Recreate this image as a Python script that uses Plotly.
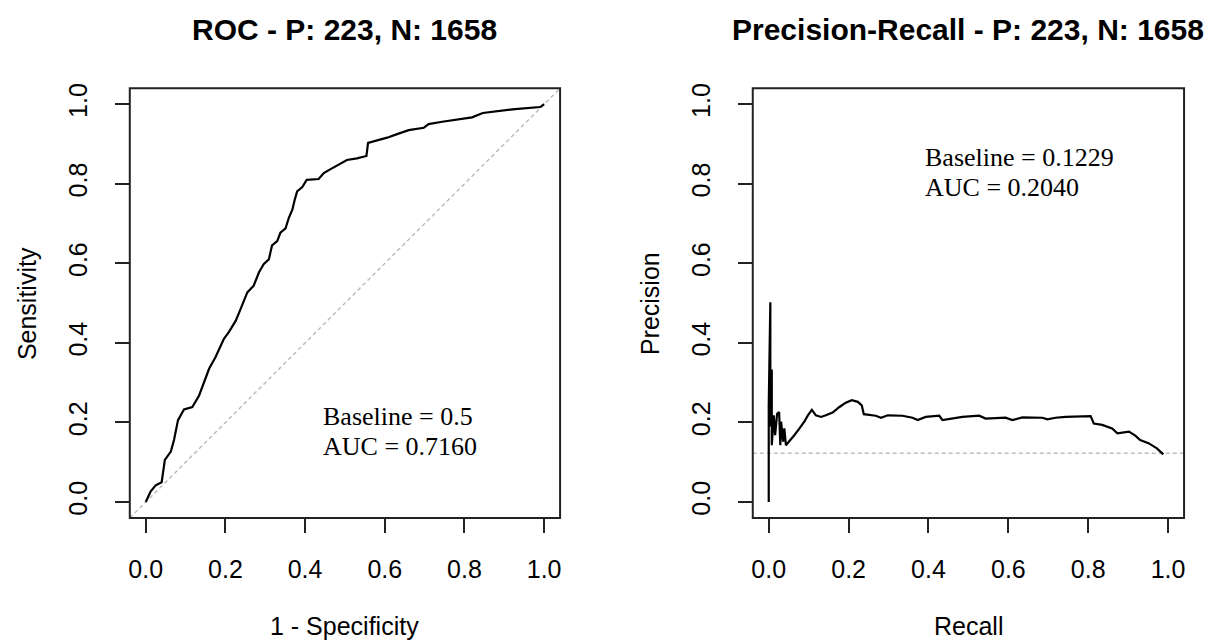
import plotly.graph_objects as go

# ---------------- data ----------------
roc_fpr = [0.0, 0.0125, 0.025, 0.040, 0.048, 0.063, 0.071, 0.081, 0.096, 0.117, 0.134, 0.147,
           0.159, 0.175, 0.196, 0.209, 0.226, 0.238, 0.246, 0.255, 0.271, 0.284, 0.296, 0.309,
           0.317, 0.330, 0.338, 0.351, 0.359, 0.368, 0.374, 0.380, 0.393, 0.404, 0.434, 0.447,
           0.464, 0.485, 0.505, 0.530, 0.554, 0.558, 0.585, 0.606, 0.631, 0.660, 0.698, 0.710,
           0.744, 0.769, 0.819, 0.846, 0.927, 0.990, 1.0]
roc_tpr = [0.0, 0.027, 0.042, 0.050, 0.106, 0.127, 0.156, 0.206, 0.233, 0.239, 0.268, 0.302,
           0.335, 0.364, 0.410, 0.428, 0.456, 0.485, 0.506, 0.527, 0.544, 0.577, 0.598, 0.610,
           0.645, 0.656, 0.677, 0.688, 0.714, 0.735, 0.760, 0.781, 0.792, 0.810, 0.812, 0.827,
           0.837, 0.848, 0.860, 0.864, 0.870, 0.903, 0.910, 0.916, 0.925, 0.935, 0.941, 0.950,
           0.956, 0.960, 0.967, 0.978, 0.988, 0.993, 1.0]

pr_recall = [0.0, 0.0, 0.004, 0.004, 0.0076, 0.0076, 0.0126, 0.016, 0.021, 0.026, 0.029, 0.031,
             0.036, 0.039, 0.043, 0.052, 0.064, 0.077, 0.089, 0.098, 0.108, 0.118, 0.131, 0.143,
             0.160, 0.177, 0.193, 0.208, 0.223, 0.233, 0.238, 0.268, 0.281, 0.298, 0.335, 0.360,
             0.373, 0.393, 0.427, 0.435, 0.460, 0.485, 0.527, 0.543, 0.593, 0.610, 0.635, 0.685,
             0.698, 0.718, 0.743, 0.806, 0.814, 0.835, 0.860, 0.873, 0.902, 0.918, 0.930, 0.951,
             0.972, 0.988]
pr_precision = [0.0, 0.243, 0.502, 0.190, 0.333, 0.143, 0.218, 0.168, 0.222, 0.226, 0.143, 0.202,
                0.152, 0.185, 0.143, 0.153, 0.168, 0.185, 0.202, 0.218, 0.232, 0.218, 0.214, 0.218,
                0.225, 0.239, 0.250, 0.256, 0.252, 0.243, 0.221, 0.217, 0.212, 0.218, 0.217, 0.212,
                0.206, 0.214, 0.217, 0.206, 0.210, 0.214, 0.217, 0.210, 0.212, 0.206, 0.213, 0.212,
                0.208, 0.212, 0.214, 0.216, 0.1975, 0.194, 0.185, 0.173, 0.177, 0.167, 0.156, 0.148,
                0.135, 0.120]

tick_vals = [0.0, 0.2, 0.4, 0.6, 0.8, 1.0]
tick_text = ["0.0", "0.2", "0.4", "0.6", "0.8", "1.0"]

n_pos, n_neg = 223, 1658
roc_baseline, roc_auc = 0.5, 0.7160
pr_baseline, pr_auc = 0.1229, 0.2040

# ---------------- figure ----------------
W, H = 1221, 642
SANS = "Liberation Sans, Arial, sans-serif"
SERIF = "Liberation Serif, Times New Roman, serif"

def px_x(p):
    return p / W

def px_y(p):
    return 1 - p / H

fig = go.Figure()
fig.add_trace(go.Scatter(x=roc_fpr, y=roc_tpr, mode="lines",
                         line=dict(color="black", width=2.2),
                         xaxis="x", yaxis="y", showlegend=False, hoverinfo="skip"))
fig.add_trace(go.Scatter(x=pr_recall, y=pr_precision, mode="lines",
                         line=dict(color="black", width=2.2),
                         xaxis="x2", yaxis="y2", showlegend=False, hoverinfo="skip"))

axis_common = dict(range=[-0.04, 1.04], tickvals=tick_vals, ticktext=tick_text,
                   ticks="outside", ticklen=14, tickwidth=2, tickcolor="#222",
                   showgrid=False, zeroline=False, showline=False,
                   tickfont=dict(family=SANS, size=25, color="black"))

ydom = [px_y(517), px_y(84)]
fig.update_layout(
    width=W, height=H, autosize=False,
    margin=dict(l=0, r=0, t=0, b=0),
    paper_bgcolor="white", plot_bgcolor="white",
    xaxis=dict(domain=[px_x(129), px_x(560)], anchor="y", ticklabelstandoff=15, **axis_common),
    yaxis=dict(domain=ydom, anchor="x", tickangle=-90, ticklabelstandoff=18, **axis_common),
    xaxis2=dict(domain=[px_x(753), px_x(1185)], anchor="y2", ticklabelstandoff=15, **axis_common),
    yaxis2=dict(domain=ydom, anchor="x2", tickangle=-90, ticklabelstandoff=18, **axis_common),
)

dash = dict(color="#bebebe", width=1.5, dash="4px,3px")
shapes = [
    # baselines
    dict(type="line", xref="x domain", yref="y domain", x0=0, y0=0, x1=1, y1=1, line=dash, layer="below"),
    dict(type="line", xref="x2 domain", yref="y2", x0=0, x1=1, y0=pr_baseline, y1=pr_baseline,
         line=dash, layer="below"),
    # boxes
    dict(type="rect", xref="x domain", yref="y domain", x0=0, y0=0, x1=1, y1=1,
         line=dict(color="#222", width=2)),
    dict(type="rect", xref="x2 domain", yref="y2 domain", x0=0, y0=0, x1=1, y1=1,
         line=dict(color="#222", width=2)),
]
fig.update_layout(shapes=shapes)

ann = []
# titles
ann.append(dict(text=f"<b>ROC - P: {n_pos}, N: {n_neg}</b>", xref="paper", yref="paper",
                x=px_x((129 + 560) / 2), y=px_y(25), xanchor="center", yanchor="middle",
                showarrow=False, font=dict(family=SANS, size=30, color="black")))
ann.append(dict(text=f"<b>Precision-Recall - P: {n_pos}, N: {n_neg}</b>", xref="paper", yref="paper",
                x=px_x((753 + 1185) / 2), y=px_y(25), xanchor="center", yanchor="middle",
                showarrow=False, font=dict(family=SANS, size=30, color="black")))
# axis titles
ann.append(dict(text="1 - Specificity", xref="paper", yref="paper",
                x=px_x((129 + 560) / 2), y=px_y(626), xanchor="center", yanchor="middle",
                showarrow=False, font=dict(family=SANS, size=25, color="black")))
ann.append(dict(text="Recall", xref="paper", yref="paper",
                x=px_x((753 + 1185) / 2), y=px_y(626), xanchor="center", yanchor="middle",
                showarrow=False, font=dict(family=SANS, size=25, color="black")))
ann.append(dict(text="Sensitivity", xref="paper", yref="paper", textangle=-90,
                x=px_x(26), y=px_y((84 + 517) / 2), xanchor="center", yanchor="middle",
                showarrow=False, font=dict(family=SANS, size=25, color="black")))
ann.append(dict(text="Precision", xref="paper", yref="paper", textangle=-90,
                x=px_x(650), y=px_y((84 + 517) / 2), xanchor="center", yanchor="middle",
                showarrow=False, font=dict(family=SANS, size=25, color="black")))
# in-plot text
serif = dict(family=SERIF, size=26, color="black")
ann.append(dict(text=f"Baseline = {roc_baseline}", xref="x", yref="y", x=0.44, y=0.214,
                xanchor="left", yanchor="middle", showarrow=False, font=serif))
ann.append(dict(text=f"AUC = {roc_auc:.4f}", xref="x", yref="y", x=0.44, y=0.139,
                xanchor="left", yanchor="middle", showarrow=False, font=serif))
ann.append(dict(text=f"Baseline = {pr_baseline:.4f}", xref="x2", yref="y2", x=0.386, y=0.866,
                xanchor="left", yanchor="middle", showarrow=False, font=serif))
ann.append(dict(text=f"AUC = {pr_auc:.4f}", xref="x2", yref="y2", x=0.386, y=0.791,
                xanchor="left", yanchor="middle", showarrow=False, font=serif))
fig.update_layout(annotations=ann)

fig.write_html("out.html")
